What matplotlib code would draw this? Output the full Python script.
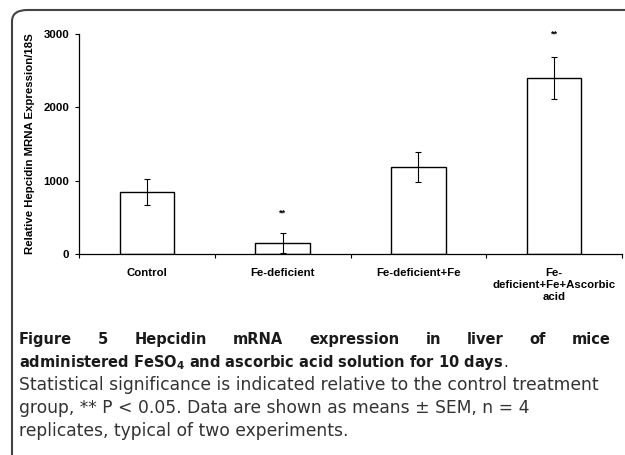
import matplotlib
matplotlib.use("Agg")
import matplotlib.pyplot as plt
from matplotlib.patches import FancyBboxPatch
import numpy as np

# Dados
categorias = ['Control', 'Fe-deficient', 'Fe-deficient+Fe', 'Fe-\ndeficient+Fe+Ascorbic\nacid']
medias = [845, 150, 1186, 2400]
erros = [178, 136, 205, 280]
marcas = ['', '**', '', '**']
marca_y = [0, 560, 0, 3000]

plt.rcParams['mathtext.fontset'] = 'dejavusans'

fig = plt.figure(figsize=(6.25, 4.55), dpi=100)
W, H = 625.0, 455.0

# moldura arredondada (sai pela direita e por baixo)
borda = FancyBboxPatch((12 / W, -0.2), 1.2, 1 - 10 / H + 0.2,
                       boxstyle="round,pad=0,rounding_size=0.025",
                       transform=fig.transFigure, fill=False,
                       edgecolor='#444444', linewidth=1.5)
fig.patches.append(borda)

ax = fig.add_axes([79 / W, 1 - 254 / H, (622 - 79) / W, 220 / H])
x = np.arange(len(categorias))
ax.bar(x, medias, width=0.4, color='white', edgecolor='black', linewidth=1.0)
ax.errorbar(x, medias, yerr=erros, fmt='none', ecolor='black', elinewidth=0.8,
            capsize=2, capthick=0.8)
for i in range(len(x)):
    if marcas[i]:
        ax.text(x[i], marca_y[i], marcas[i], ha='center', va='center',
                fontsize=6.5, fontweight='bold', family='Liberation Sans')

fonte_eixo = dict(fontsize=8.2, fontweight='bold', family='Liberation Sans')
ax.set_xlim(-0.5, 3.5)
ax.set_ylim(0, 3000)
ax.set_yticks([0, 1000, 2000, 3000])
ax.set_yticklabels(['0', '1000', '2000', '3000'], **fonte_eixo)
ax.set_xticks(np.arange(-0.5, 4, 1))
ax.set_xticklabels([])
ax.tick_params(axis='both', direction='out', length=3, width=0.8, pad=4)
for i, c in enumerate(categorias):
    ax.text(x[i], -190, c, ha='center', va='top', linespacing=1.25, **fonte_eixo)
ax.spines['top'].set_visible(False)
ax.spines['right'].set_visible(False)
ax.spines['left'].set_linewidth(0.9)
ax.spines['bottom'].set_linewidth(0.9)
ax.set_ylabel('Relative Hepcidin MRNA Expression/18S', labelpad=6, **fonte_eixo)

# legenda da figura
renderer = fig.canvas.get_renderer()
x0, x1 = 19 / W, 611 / W
cor = '#1a1a1a'
cor_corpo = '#333333'


def ajusta(texto, alvo_px, peso):
    # acha o tamanho de fonte que dá a largura desejada
    t = fig.text(0, 0, texto, fontsize=10, family='DejaVu Sans', fontweight=peso)
    w = t.get_window_extent(renderer).width
    t.remove()
    return 10 * alvo_px / w


tam_neg = ajusta(r'administered FeSO$_4$ and ascorbic acid solution for 10 days.', 488, 'bold')
tam_corpo = ajusta('Statistical significance is indicated relative to the control treatment', 579, 'normal')


def linha_justificada(palavras, y):
    objs = []
    larg = 0
    for p in palavras:
        t = fig.text(0, y, p, fontsize=tam_neg, family='DejaVu Sans', fontweight='bold',
                     ha='left', color=cor)
        w = t.get_window_extent(renderer).width / fig.bbox.width
        objs.append((t, w))
        larg += w
    espaco = (x1 - x0 - larg) / (len(objs) - 1)
    pos = x0
    for t, w in objs:
        t.set_x(pos)
        pos += w + espaco


l1 = ['Figure', '5', 'Hepcidin', 'mRNA', 'expression', 'in', 'liver', 'of', 'mice']
linha_justificada(l1, 1 - 344 / H)

t2 = fig.text(x0, 1 - 367 / H, r'administered FeSO$_\mathbf{4}$ and ascorbic acid solution for 10 days',
              fontsize=tam_neg, family='DejaVu Sans', fontweight='bold', color=cor)
bb = t2.get_window_extent(renderer)
fig.text(bb.x1 / fig.bbox.width, 1 - 367 / H, '.', fontsize=tam_neg, family='DejaVu Sans',
         color=cor)

corpo = ['Statistical significance is indicated relative to the control treatment',
         'group, ** P < 0.05. Data are shown as means \u00b1 SEM, n = 4',
         'replicates, typical of two experiments.']
ys = [390, 413, 436]
for linha, yy in zip(corpo, ys):
    fig.text(x0, 1 - yy / H, linha, fontsize=tam_corpo, family='DejaVu Sans',
             color=cor_corpo)

fig.savefig('out.png', dpi=100)
